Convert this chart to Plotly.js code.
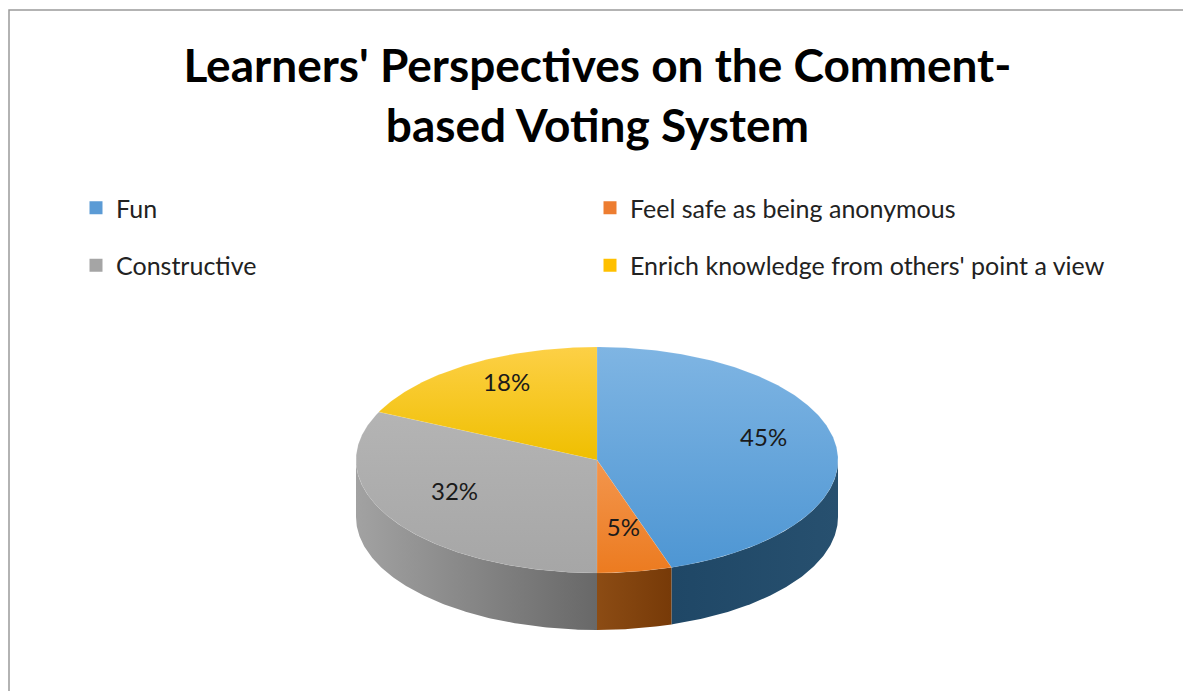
<!DOCTYPE html>
<html>
<head>
<meta charset="utf-8">
<script src="https://cdn.plot.ly/plotly-3.0.1.min.js"></script>
<style>html,body{margin:0;padding:0;background:#fff;}#chart{width:1183px;height:691px;}</style>
</head>
<body>
<div id="chart"></div>
<script>
// ---- data ----
const categories = ['Fun', 'Feel safe as being anonymous', 'Constructive', "Enrich knowledge from others' point a view"];
const values = [45, 5, 32, 18];
const titleText = "Learners' Perspectives on the Comment-<br>based Voting System";

// ---- styles ----
const legendColors = ['#5b9bd5', '#ed7d31', '#a5a5a5', '#ffc000'];
const topScales = [
  [[0, '#7fb5e3'], [1, '#4e96d3']],
  [[0, '#f3964e'], [1, '#ec7b20']],
  [[0, '#b4b4b4'], [1, '#a6a6a6']],
  [[0, '#fdd046'], [1, '#efbf00']]
];
const sideScales = [
  [[0, '#1f4766'], [1, '#27506f']],
  [[0, '#8c4c14'], [1, '#773a08']],
  [[0, '#a2a2a2'], [1, '#686868']],
  [[0, '#c49400'], [1, '#a07800']]
];

// ---- 3D pie geometry (pixel-unit axes) ----
const CX = 597, CY = 460, RX = 241, RY = 113, DEPTH = 57;
function pt(theta, r, dy) {
  return [CX + RX * r * Math.sin(theta), CY - RY * r * Math.cos(theta) + (dy || 0)];
}
function arc(a, b, r, dy) {
  const n = Math.max(2, Math.ceil(Math.abs(b - a) / 0.01));
  const out = [];
  for (let i = 0; i <= n; i++) out.push(pt(a + (b - a) * i / n, r, dy));
  return out;
}

const total = values.reduce((s, v) => s + v, 0);
const sideTraces = [];
const topTraces = [];
const labelX = [], labelY = [], labelT = [];
let acc = 0;
values.forEach((v, i) => {
  const a = acc / total * 2 * Math.PI;
  acc += v;
  const b = acc / total * 2 * Math.PI;
  // top face
  const pts = [[CX, CY]].concat(arc(a, b, 1, 0));
  pts.push([CX, CY]);
  const ys = pts.map(p => p[1]);
  topTraces.push({
    type: 'scatter', mode: 'lines', x: pts.map(p => p[0]), y: ys,
    fill: 'toself', fillcolor: legendColors[i],
    fillgradient: { type: 'vertical', colorscale: topScales[i], start: Math.min(...ys), stop: Math.max(...ys) },
    line: { width: 0.6, color: 'rgba(255,255,255,0.15)' },
    hoverinfo: 'skip', showlegend: false
  });
  // side wall (front half only)
  const s0 = Math.max(a, Math.PI / 2), s1 = Math.min(b, 3 * Math.PI / 2);
  if (s1 > s0) {
    const top = arc(s0, s1, 1, 0);
    const bot = arc(s0, s1, 1, DEPTH).reverse();
    const sp = top.concat(bot);
    sp.push(top[0]);
    const xs = sp.map(p => p[0]);
    sideTraces.push({
      type: 'scatter', mode: 'lines', x: xs, y: sp.map(p => p[1]),
      fill: 'toself', fillcolor: legendColors[i],
      fillgradient: { type: 'horizontal', colorscale: sideScales[i], start: Math.min(...xs), stop: Math.max(...xs) },
      line: { width: 0 },
      hoverinfo: 'skip', showlegend: false
    });
  }
  const m = pt((a + b) / 2, 0.7, -8);
  labelX.push(m[0]); labelY.push(m[1]);
  labelT.push(Math.round(v / total * 100) + '%');
});

const legendTraces = categories.map((c, i) => ({
  type: 'scatter', mode: 'markers', x: [null], y: [null], name: c,
  marker: { symbol: 'square', size: 13, color: legendColors[i] },
  legend: (i % 2 === 0) ? 'legend' : 'legend2',
  legendgroup: 'g' + i, hoverinfo: 'skip'
}));

const labelTrace = {
  type: 'scatter', mode: 'text', x: labelX, y: labelY, text: labelT,
  textfont: { family: 'Lato, sans-serif', size: 24, color: '#1a1a1a' },
  hoverinfo: 'skip', showlegend: false
};

const data = sideTraces.concat(topTraces, [labelTrace], legendTraces);

const legendCommon = {
  orientation: 'v', xanchor: 'left', yanchor: 'top',
  font: { family: 'Lato, sans-serif', size: 25, color: '#222' },
  traceorder: 'grouped', tracegroupgap: 22, bgcolor: 'rgba(0,0,0,0)', itemclick: false, itemdoubleclick: false
};

const layout = {
  width: 1183, height: 691,
  margin: { l: 0, r: 0, t: 0, b: 0, pad: 0 },
  paper_bgcolor: '#ffffff', plot_bgcolor: '#ffffff',
  showlegend: true,
  title: {
    text: titleText, x: 0.505, xanchor: 'center', y: 1 - 82 / 691, yanchor: 'top', yref: 'paper',
    font: { family: 'Lato, sans-serif', size: 46, color: '#000', weight: 'bold' }
  },
  xaxis: { range: [0, 1183], visible: false, fixedrange: true },
  yaxis: { range: [691, 0], visible: false, fixedrange: true },
  legend: Object.assign({}, legendCommon, { x: 76 / 1183, y: 1 - 185 / 691 }),
  legend2: Object.assign({}, legendCommon, { x: 590 / 1183, y: 1 - 185 / 691 }),
  shapes: [{
    type: 'rect', xref: 'paper', yref: 'paper', x0: 9 / 1183, y0: -0.05, x1: 1.05, y1: 1 - 10 / 691,
    line: { color: '#9a9a9a', width: 1.5 }, fillcolor: 'rgba(0,0,0,0)', layer: 'below'
  }],
  hovermode: false
};

Plotly.newPlot('chart', data, layout, { displayModeBar: false, staticPlot: true });
</script>
</body>
</html>
